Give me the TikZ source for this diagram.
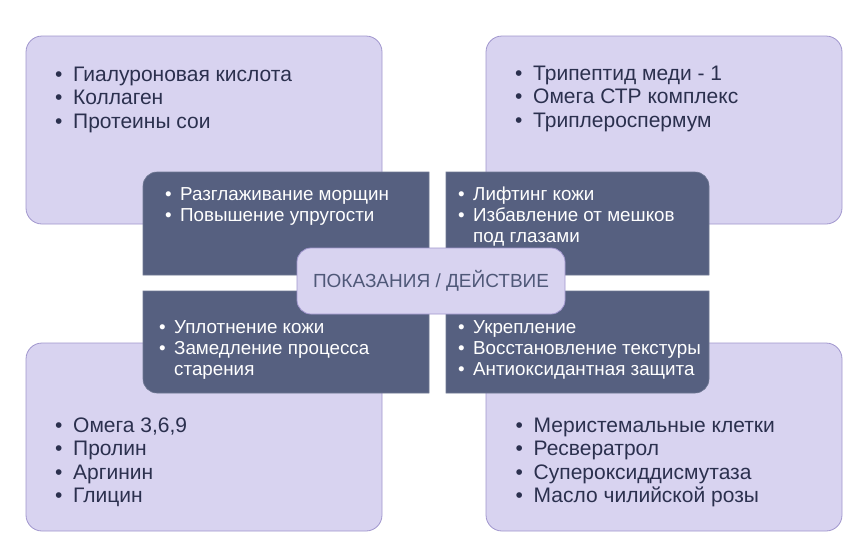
\documentclass[tikz,border=0pt]{standalone}
\usepackage{fontspec}
\setmainfont{Liberation Sans}
\usepackage{tikz}
\usetikzlibrary{positioning}
\definecolor{lavender}{HTML}{D8D3F0}
\definecolor{lavedge}{HTML}{A096CD}
\definecolor{slate}{HTML}{566080}
\definecolor{ink}{HTML}{2B304E}
\definecolor{titleink}{HTML}{4F5878}
\tikzstyle{ingred} = [
    rectangle,
    rounded corners=16pt,
    draw=lavedge,
    line width=0.8pt,
    fill=lavender,
    minimum width=356pt,
    minimum height=188pt,
    inner sep=0pt
]
\tikzstyle{effect} = [
    fill=slate,
    draw=slate!85!white,
    line width=0.6pt
]
\tikzstyle{hub} = [
    rectangle,
    rounded corners=14pt,
    draw=lavedge,
    line width=0.8pt,
    fill=lavender,
    minimum width=268pt,
    minimum height=66pt,
    text=titleink,
    font=\fontsize{19}{22}\selectfont
]
\tikzstyle{inglist} = [
    anchor=north west,
    align=left,
    inner sep=0pt,
    text=ink,
    font=\fontsize{21}{23.5}\selectfont
]
\tikzstyle{efflist} = [
    anchor=north west,
    align=left,
    inner sep=0pt,
    text=white,
    font=\fontsize{18.8}{21.3}\selectfont
]
\newcommand{\ibul}{\rule{0pt}{17pt}\makebox[18pt][l]{\textbullet}}
\newcommand{\jbul}{\makebox[18pt][l]{\textbullet}}
\newcommand{\ebul}{\rule{0pt}{15pt}\makebox[15pt][l]{\textbullet}}
\newcommand{\fbul}{\makebox[15pt][l]{\textbullet}}
\begin{document}
\begin{tikzpicture}[x=1pt, y=-1pt]
        \useasboundingbox (0,0) rectangle (850,539);

        % Ingredient boxes
        \node[ingred] (ingTL) at (204,130) {};
        \node[ingred] (ingTR) at (664,130) {};
        \node[ingred] (ingBL) at (204,437) {};
        \node[ingred] (ingBR) at (664,437) {};

        % Effect panels
        \path[effect] (143,275) -- (143,186) arc[start angle=180, end angle=270, radius=14]
            -- (429,172) -- (429,275) -- cycle;
        \path[effect] (446,275) -- (446,172) -- (695,172)
            arc[start angle=270, end angle=360, radius=14] -- (709,275) -- cycle;
        \path[effect] (143,291) -- (429,291) -- (429,393) -- (157,393)
            arc[start angle=90, end angle=180, radius=14] -- cycle;
        \path[effect] (446,291) -- (709,291) -- (709,379)
            arc[start angle=0, end angle=90, radius=14] -- (446,393) -- cycle;

        % Centre
        \node[hub] (center) at (431,281) {ПОКАЗАНИЯ / ДЕЙСТВИЕ};

        % Ingredient lists
        \node[inglist] (listTL) at (55,64) {
            \ibul Гиалуроновая кислота\\
            \jbul Коллаген\\
            \jbul Протеины сои
        };
        \node[inglist] (listTR) at (515,63) {
            \ibul Трипептид меди - 1\\
            \jbul Омега СТР комплекс\\
            \jbul Триплероспермум
        };
        \node[inglist] (listBL) at (55,415) {
            \ibul Омега 3,6,9\\
            \jbul Пролин\\
            \jbul Аргинин\\
            \jbul Глицин
        };
        \node[inglist] (listBR) at (515.5,415) {
            \ibul Меристемальные клетки\\
            \jbul Ресвератрол\\
            \jbul Супероксиддисмутаза\\
            \jbul Масло чилийской розы
        };

        % Effect lists
        \node[efflist] (effTL) at (165,185) {
            \ebul Разглаживание морщин\\
            \fbul Повышение упругости
        };
        \node[efflist] (effTR) at (458,185) {
            \ebul Лифтинг кожи\\
            \fbul Избавление от мешков\\
            \hspace*{15pt}под глазами
        };
        \node[efflist] (effBL) at (159,318) {
            \ebul Уплотнение кожи\\
            \fbul Замедление процесса\\
            \hspace*{15pt}старения
        };
        \node[efflist] (effBR) at (458,318) {
            \ebul Укрепление\\
            \fbul Восстановление текстуры\\
            \fbul Антиоксидантная защита
        };
    \end{tikzpicture}
\end{document}
